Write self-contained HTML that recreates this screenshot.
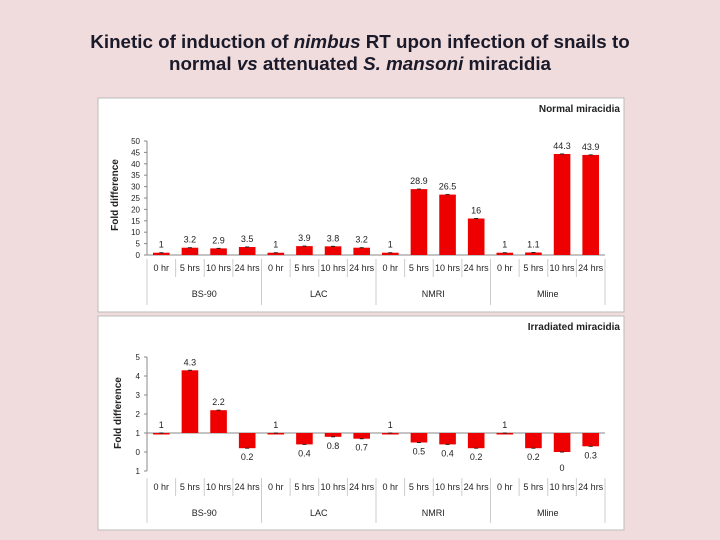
<!DOCTYPE html>
<html><head><meta charset="utf-8"><style>
body{margin:0;width:720px;height:540px;background:#f0dcdc;font-family:"Liberation Sans",sans-serif;overflow:hidden}
#title{position:absolute;left:0;top:31px;width:720px;text-align:center;font-size:18.8px;line-height:22px;color:#1a1a2a;font-weight:bold}
svg{position:absolute;left:0;top:0}
</style></head><body>
<div id="title">Kinetic of induction of <i>nimbus</i> RT upon infection of snails to<br>normal <i>vs</i> attenuated <i>S. mansoni</i> miracidia</div>
<svg id="svg" width="720" height="540"></svg>
<script>
const groups=["BS-90","LAC","NMRI","Mline"];
const times=["0 hr","5 hrs","10 hrs","24 hrs"];
const normalValues=[1,3.2,2.9,3.5,1,3.9,3.8,3.2,1,28.9,26.5,16,1,1.1,44.3,43.9];
const normalLabels=["1","3.2","2.9","3.5","1","3.9","3.8","3.2","1","28.9","26.5","16","1","1.1","44.3","43.9"];
const normalTicks=[0,5,10,15,20,25,30,35,40,45,50];
const irrValues=[1,4.3,2.2,0.2,1,0.4,0.8,0.7,1,0.5,0.4,0.2,1,0.2,0,0.3];
const irrLabels=["1","4.3","2.2","0.2","1","0.4","0.8","0.7","1","0.5","0.4","0.2","1","0.2","0","0.3"];
const irrTicks=[-1,0,1,2,3,4,5];
const irrTickLabels=["1","0","1","2","3","4","5"];
const svg=document.getElementById('svg');
const NS="http://www.w3.org/2000/svg";
function el(t,a,p){const e=document.createElementNS(NS,t);for(const k in a)e.setAttribute(k,a[k]);(p||svg).appendChild(e);return e;}
function txt(x,y,s,a,p){const e=el('text',Object.assign({x:x,y:y,'font-size':9,fill:'#222','text-anchor':'middle'},a||{}),p);e.textContent=s;return e;}
function panel(cfg){
 const g=el('g',{});
 
 
 const bg=el('rect',{x:98,y:cfg.top,width:526,height:214,fill:'#fff',stroke:'#bbb'},g);
 
 const t=txt(620,cfg.top+14,cfg.title,{'text-anchor':'end','font-size':10,'font-weight':'bold'},g);
 
 const x0=147,x1=605,n=16,w=(x1-x0)/n;
 const y=v=>cfg.y0-(v-cfg.v0)*cfg.k;
 el('line',{x1:x0,x2:x0,y1:y(cfg.ticks[cfg.ticks.length-1]),y2:y(cfg.ticks[0]),stroke:'#888'},g);
 cfg.ticks.forEach((v,i)=>{el('line',{x1:x0-3,x2:x0,y1:y(v),y2:y(v),stroke:'#888'},g);
  const l=txt(x0-7,y(v)+3,cfg.tickLabels[i],{'text-anchor':'end','font-size':8},g);
  });
 const yt=txt(0,0,'Fold difference',{'font-size':10,'font-weight':'bold',transform:`translate(${cfg.ytx},${cfg.yty}) rotate(-90)`},g);
 
 el('line',{x1:x0,x2:x1,y1:y(cfg.base),y2:y(cfg.base),stroke:'#888'},g);
 cfg.values.forEach((v,i)=>{
  const cx=x0+w*(i+0.5),bw=w*0.58;
  const top=Math.min(y(v),y(cfg.base)),h=Math.max(Math.abs(y(v)-y(cfg.base)),1.5);
  const b=el('rect',{x:cx-bw/2,y:top,width:bw,height:h,fill:'#ee0000'},g);
  
  
  el('line',{x1:cx-2,x2:cx+2,y1:y(v),y2:y(v),stroke:'#222'},g);
  const above=v>=cfg.base;
  const l=txt(cx,above?y(v)-5:y(v)+12+(v===0?7:0),cfg.labels[i],{},g);
  
  const c=txt(cx,cfg.catY,times[i%4],{'font-size':9},g);
  
  el('line',{x1:x0+w*(i+1),x2:x0+w*(i+1),y1:cfg.catY-12,y2:(i%4===3?cfg.top+207:cfg.catY+6),stroke:'#ccc'},g);
 });
 el('line',{x1:x0,x2:x0,y1:cfg.catY-12,y2:cfg.top+207,stroke:'#ccc'},g);
 groups.forEach((gn,j)=>{const l=txt(x0+w*(j*4+2),cfg.grpY,gn,{'font-size':9},g);
  });
}
panel({name:'normal-miracidia-chart',top:98,title:'Normal miracidia',values:normalValues,labels:normalLabels,ticks:normalTicks,tickLabels:normalTicks.map(String),y0:255,v0:0,k:2.28,base:0,ytx:118,yty:195,catY:271,grpY:297});
panel({name:'irradiated-miracidia-chart',top:316,title:'Irradiated miracidia',values:irrValues,labels:irrLabels,ticks:irrTicks,tickLabels:irrTickLabels,y0:433,v0:1,k:19,base:1,ytx:121,yty:413,catY:490,grpY:516});
</script>
</body></html>
